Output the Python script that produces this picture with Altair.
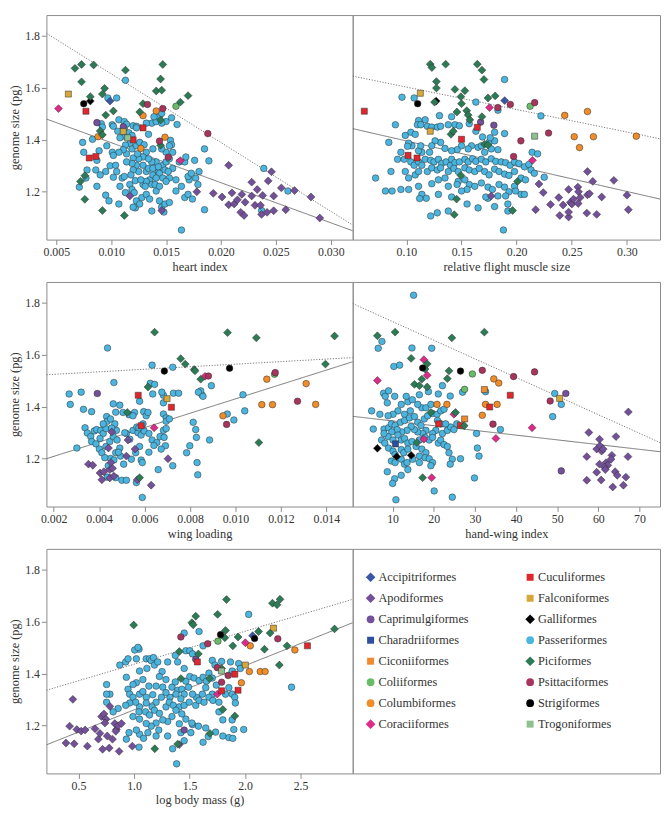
import altair as alt
import pandas as pd

# ---------------- categories / styles ----------------
ORDERS = ["Accipitriformes", "Apodiformes", "Caprimulgiformes", "Charadriiformes",
          "Ciconiiformes", "Coliiformes", "Columbiformes", "Coraciiformes",
          "Cuculiformes", "Falconiformes", "Galliformes", "Passeriformes",
          "Piciformes", "Psittaciformes", "Strigiformes", "Trogoniformes"]
COLORS = ["#3a57a6", "#74509a", "#74509a", "#2d4f9e",
          "#ef8a2d", "#69bd6a", "#f18d28", "#df2a8a",
          "#e2262d", "#d6a73b", "#000000", "#4ab6e0",
          "#2b7b55", "#a8345d", "#000000", "#8fc08f"]
SHAPES = ["diamond", "diamond", "circle", "square",
          "square", "circle", "circle", "diamond",
          "square", "square", "diamond", "circle",
          "diamond", "circle", "circle", "square"]

Y_TICKS = [1.2, 1.4, 1.6, 1.8]
Y_DOMAIN = [1.016, 1.88]

# ---------------- panel 1: heart index ----------------
HEART = {
    "Passeriformes": [(0.0113,1.629),(0.0097,1.561),(0.0105,1.561),(0.0091,1.462),(0.0092,1.449),(0.0101,1.458),(0.0102,1.452),(0.0107,1.477),(0.0106,1.433),(0.0112,1.470),(0.0114,1.460),(0.0112,1.442),(0.0120,1.454),(0.0123,1.452),(0.0116,1.427),(0.0119,1.417),(0.0123,1.446),(0.0112,1.414),(0.0108,1.408),(0.0117,1.386),(0.0113,1.380),(0.0119,1.365),(0.0123,1.377),(0.0126,1.390),(0.0130,1.381),(0.0134,1.421),(0.0137,1.464),(0.0141,1.470),(0.0144,1.489),(0.0146,1.502),(0.0150,1.470),(0.0155,1.485),(0.0160,1.459),(0.0154,1.398),(0.0155,1.381),(0.0150,1.352),(0.0156,1.352),(0.0138,1.365),(0.0132,1.352),(0.0129,1.334),(0.0125,1.327),(0.0120,1.330),(0.0114,1.346),(0.0111,1.362),(0.0107,1.352),(0.0101,1.352),(0.0102,1.340),(0.0096,1.377),(0.0089,1.358),(0.0083,1.402),(0.0074,1.390),(0.0087,1.321),(0.0086,1.284),(0.0087,1.221),(0.0095,1.278),(0.0095,1.187),(0.0099,1.300),(0.0104,1.302),(0.0105,1.278),(0.0102,1.256),(0.0110,1.253),(0.0112,1.259),(0.0113,1.197),(0.0108,1.221),(0.0107,1.153),(0.0117,1.228),(0.0119,1.209),(0.0122,1.243),(0.0121,1.197),(0.0123,1.165),(0.0122,1.138),(0.0129,1.228),(0.0128,1.178),(0.0132,1.190),(0.0135,1.172),(0.0137,1.126),(0.0141,1.203),(0.0144,1.165),(0.0146,1.141),(0.0148,1.122),(0.0149,1.153),(0.0153,1.159),(0.0159,1.203),(0.0164,1.221),(0.0167,1.178),(0.0170,1.190),(0.0174,1.172),(0.0171,1.246),(0.0170,1.259),(0.0176,1.321),(0.0180,1.278),(0.0177,1.253),(0.0179,1.228),(0.0185,1.365),(0.0189,1.319),(0.0185,1.131),(0.0164,1.053),(0.0159,1.246),(0.0153,1.253),(0.0156,1.290),(0.0162,1.315),(0.0167,1.315),(0.0168,1.334),(0.0129,1.302),(0.0132,1.278),(0.0135,1.246),(0.0138,1.265),(0.0143,1.278),(0.0147,1.302),(0.0150,1.315),(0.0153,1.327),(0.0141,1.315),(0.0137,1.315),(0.0134,1.327),(0.0134,1.290),(0.0138,1.290),(0.0143,1.296),(0.0144,1.271),(0.0147,1.253),(0.0141,1.253),(0.0137,1.228),(0.0132,1.240),(0.0140,1.228),(0.0144,1.221),(0.0150,1.240),(0.0149,1.284),(0.0152,1.278),(0.0125,1.278),(0.0123,1.302),(0.0119,1.309),(0.0114,1.315),(0.0120,1.284),(0.0118,1.265),(0.0127,1.246),(0.0131,1.221),(0.0075,1.352),(0.0071,1.218),(0.0078,1.284),(0.0077,1.253),(0.0239,1.290),(0.0261,1.203),(0.0237,1.128),(0.0124,1.346),(0.0132,1.464),(0.0139,1.489),(0.0146,1.464),(0.0153,1.377),(0.0146,1.365),(0.0090,1.265),(0.0098,1.165),(0.0120,1.141),(0.0126,1.153),(0.0173,1.271)],
    "Piciformes": [(0.0067,1.675),(0.0073,1.690),(0.0084,1.688),(0.0073,1.623),(0.0081,1.566),(0.0094,1.598),(0.0092,1.576),(0.0095,1.495),(0.0102,1.511),(0.0113,1.668),(0.0147,1.690),(0.0145,1.634),(0.0141,1.588),(0.0146,1.591),(0.0163,1.545),(0.0170,1.570),(0.0129,1.539),(0.0126,1.507),(0.0090,1.434),(0.0092,1.419),(0.0145,1.379),(0.0145,1.476),(0.0076,1.262),(0.0072,1.240),(0.0076,1.171),(0.0092,1.128),(0.0112,1.109)],
    "Apodiformes": [(0.0207,1.302),(0.0193,1.194),(0.0201,1.180),(0.0210,1.196),(0.0207,1.150),(0.0212,1.153),(0.0215,1.169),(0.0219,1.190),(0.0222,1.160),(0.0218,1.121),(0.0221,1.109),(0.0228,1.237),(0.0233,1.209),(0.0231,1.148),(0.0236,1.148),(0.0238,1.186),(0.0237,1.113),(0.0243,1.242),(0.0242,1.121),(0.0246,1.277),(0.0248,1.184),(0.0248,1.127),(0.0255,1.215),(0.0259,1.131),(0.0267,1.205),(0.0282,1.180),(0.0290,1.099),(0.0228,1.184),(0.0178,1.200),(0.0117,1.184),(0.0146,1.128)],
    "Caprimulgiformes": [(0.0087,1.466),(0.0111,1.450)],
    "Psittaciformes": [(0.0133,1.536),(0.0147,1.520),(0.0144,1.395),(0.0152,1.333),(0.0188,1.424)],
    "Coraciiformes": [(0.0052,1.520),(0.0163,1.320)],
    "Cuculiformes": [(0.0077,1.510),(0.0086,1.336),(0.0080,1.330),(0.0129,1.446),(0.0120,1.400)],
    "Falconiformes": [(0.0061,1.576),(0.0111,1.432)],
    "Galliformes": [(0.0081,1.549)],
    "Strigiformes": [(0.0075,1.539)],
    "Accipitriformes": [(0.0099,1.549)],
    "Columbiformes": [(0.0088,1.412),(0.0129,1.493),(0.0141,1.511),(0.0149,1.410),(0.0127,1.367)],
    "Coliiformes": [(0.0159,1.529)],
    "Trogoniformes": [(0.0115,1.408)],
}
HEART_FIT = [(0.0041, 1.480), (0.0320, 1.050)]
HEART_UPPER = [(0.0041, 1.810), (0.0320, 1.072)]

# ---------------- panel 2: relative flight muscle size ----------------
MUSCLE = {
    "Passeriformes": [(0.189,1.632),(0.096,1.564),(0.107,1.561),(0.163,1.545),(0.183,1.514),(0.130,1.493),(0.117,1.477),(0.111,1.474),(0.110,1.458),(0.113,1.458),(0.090,1.458),(0.104,1.429),(0.099,1.417),(0.108,1.421),(0.119,1.452),(0.123,1.449),(0.128,1.449),(0.131,1.452),(0.138,1.458),(0.141,1.489),(0.144,1.458),(0.148,1.454),(0.157,1.462),(0.163,1.433),(0.180,1.429),(0.189,1.424),(0.169,1.411),(0.175,1.390),(0.180,1.396),(0.183,1.362),(0.177,1.365),(0.171,1.352),(0.165,1.371),(0.159,1.377),(0.156,1.365),(0.150,1.377),(0.146,1.362),(0.141,1.358),(0.135,1.367),(0.131,1.390),(0.126,1.396),(0.123,1.377),(0.121,1.352),(0.114,1.352),(0.111,1.358),(0.105,1.377),(0.102,1.387),(0.084,1.390),(0.092,1.325),(0.098,1.325),(0.104,1.315),(0.107,1.302),(0.111,1.315),(0.114,1.302),(0.117,1.325),(0.122,1.321),(0.125,1.315),(0.129,1.325),(0.132,1.309),(0.136,1.315),(0.140,1.302),(0.141,1.325),(0.144,1.312),(0.148,1.315),(0.153,1.325),(0.156,1.315),(0.160,1.327),(0.163,1.317),(0.168,1.325),(0.172,1.315),(0.177,1.327),(0.181,1.317),(0.186,1.315),(0.190,1.312),(0.194,1.302),(0.198,1.315),(0.202,1.309),(0.207,1.296),(0.211,1.305),(0.214,1.352),(0.219,1.346),(0.222,1.492),(0.119,1.278),(0.123,1.292),(0.128,1.284),(0.131,1.292),(0.138,1.278),(0.143,1.290),(0.147,1.278),(0.153,1.292),(0.157,1.284),(0.162,1.278),(0.166,1.290),(0.171,1.278),(0.175,1.265),(0.180,1.287),(0.184,1.278),(0.189,1.268),(0.193,1.263),(0.198,1.278),(0.204,1.253),(0.208,1.246),(0.213,1.284),(0.216,1.271),(0.072,1.253),(0.086,1.278),(0.102,1.253),(0.108,1.265),(0.111,1.221),(0.114,1.190),(0.123,1.231),(0.129,1.246),(0.135,1.253),(0.138,1.221),(0.141,1.180),(0.147,1.240),(0.153,1.246),(0.157,1.228),(0.162,1.221),(0.168,1.234),(0.174,1.218),(0.178,1.209),(0.184,1.228),(0.189,1.218),(0.193,1.200),(0.198,1.221),(0.204,1.190),(0.207,1.190),(0.081,1.203),(0.087,1.203),(0.095,1.209),(0.102,1.209),(0.118,1.175),(0.129,1.190),(0.155,1.153),(0.165,1.138),(0.174,1.175),(0.180,1.143),(0.192,1.153),(0.199,1.203),(0.122,1.107),(0.128,1.119),(0.138,1.126),(0.192,1.126),(0.188,1.053),(0.112,1.174),(0.146,1.228),(0.155,1.209),(0.172,1.180),(0.183,1.184),(0.190,1.184),(0.150,1.203),(0.225,1.256),(0.095,1.352),(0.101,1.375),(0.113,1.377),(0.168,1.377),(0.176,1.408),(0.111,1.278),(0.099,1.278)],
    "Piciformes": [(0.1216,1.691),(0.1231,1.678),(0.1356,1.691),(0.1643,1.691),(0.1685,1.668),(0.1703,1.632),(0.1272,1.624),(0.1272,1.599),(0.1255,1.545),(0.1440,1.594),(0.1530,1.589),(0.1494,1.566),(0.1500,1.539),(0.1740,1.561),(0.1805,1.569),(0.1458,1.507),(0.1547,1.512),(0.1560,1.495),(0.1575,1.477),(0.1685,1.489),(0.1404,1.421),(0.1425,1.433),(0.1709,1.383),(0.1739,1.380),(0.2008,1.240),(0.1494,1.263),(0.1455,1.172),(0.1434,1.112),(0.1963,1.128)],
    "Apodiformes": [(0.2642,1.278),(0.2690,1.240),(0.2881,1.244),(0.2202,1.230),(0.2172,1.131),(0.2241,1.197),(0.2307,1.151),(0.2382,1.178),(0.2421,1.149),(0.2391,1.109),(0.2471,1.209),(0.2486,1.159),(0.2501,1.153),(0.2516,1.172),(0.2555,1.218),(0.2561,1.200),(0.2576,1.178),(0.2558,1.155),(0.2642,1.188),(0.2660,1.193),(0.2636,1.118),(0.2726,1.113),(0.2771,1.180),(0.3000,1.187),(0.3013,1.131),(0.2471,1.103),(0.2471,1.122),(0.1769,1.184)],
    "Caprimulgiformes": [(0.1673,1.468),(0.1793,1.456)],
    "Psittaciformes": [(0.1942,1.536),(0.2163,1.543),(0.1829,1.524),(0.2289,1.426),(0.2038,1.396),(0.1972,1.336)],
    "Coraciiformes": [(0.1754,1.524),(0.2143,1.321)],
    "Accipitriformes": [(0.1891,1.551)],
    "Coliiformes": [(0.2122,1.529)],
    "Trogoniformes": [(0.2163,1.414)],
    "Columbiformes": [(0.2436,1.494),(0.2642,1.509),(0.2522,1.412),(0.2696,1.412),(0.2570,1.370),(0.3085,1.414)],
    "Cuculiformes": [(0.0618,1.510),(0.1643,1.448),(0.1500,1.402),(0.1096,1.330),(0.1015,1.340)],
    "Falconiformes": [(0.1126,1.579),(0.1216,1.433)],
    "Strigiformes": [(0.1102,1.539)],
    "Galliformes": [(0.1270,1.549)],
}
MUSCLE_FIT = [(0.0513, 1.443), (0.330, 1.172)]
MUSCLE_UPPER = [(0.0513, 1.645), (0.330, 1.404)]

# ---------------- panel 3: wing loading ----------------
WING = {
    "Passeriformes": [(0.00437,1.626),(0.00268,1.449),(0.00273,1.409),(0.00321,1.456),(0.00331,1.390),(0.00367,1.381),(0.00302,1.241),(0.00338,1.319),(0.00348,1.299),(0.00363,1.285),(0.00367,1.266),(0.00379,1.307),(0.00389,1.312),(0.00407,1.309),(0.00418,1.297),(0.00430,1.316),(0.00404,1.278),(0.00386,1.257),(0.00401,1.237),(0.00412,1.223),(0.00430,1.247),(0.00447,1.266),(0.00462,1.285),(0.00476,1.309),(0.00469,1.334),(0.00433,1.362),(0.00436,1.344),(0.00450,1.353),(0.00465,1.493),(0.00473,1.379),(0.00462,1.411),(0.00491,1.406),(0.00505,1.378),(0.00520,1.297),(0.00535,1.275),(0.00549,1.309),(0.00566,1.322),(0.00513,1.300),(0.00479,1.272),(0.00491,1.241),(0.00473,1.223),(0.00494,1.210),(0.00508,1.179),(0.00450,1.201),(0.00425,1.204),(0.00440,1.173),(0.00436,1.129),(0.00473,1.127),(0.00500,1.117),(0.00542,1.198),(0.00561,1.223),(0.00578,1.247),(0.00571,1.300),(0.00585,1.291),(0.00593,1.334),(0.00596,1.381),(0.00607,1.365),(0.00598,1.307),(0.00619,1.297),(0.00633,1.272),(0.00654,1.262),(0.00668,1.285),(0.00683,1.309),(0.00695,1.316),(0.00686,1.282),(0.00692,1.250),(0.00673,1.237),(0.00619,1.225),(0.00641,1.251),(0.00615,1.378),(0.00636,1.449),(0.00625,1.490),(0.00556,1.378),(0.00575,1.319),(0.00585,1.195),(0.00590,1.185),(0.00564,1.108),(0.00660,1.158),(0.00724,1.173),(0.00683,1.372),(0.00683,1.415),(0.00683,1.444),(0.00676,1.456),(0.00695,1.357),(0.00695,1.344),(0.00709,1.353),(0.00727,1.452),(0.00750,1.452),(0.00724,1.552),(0.00644,1.486),(0.00633,1.560),(0.00785,1.223),(0.00799,1.250),(0.00814,1.340),(0.00825,1.312),(0.00828,1.282),(0.00831,1.185),(0.00834,1.138),(0.00852,1.446),(0.00847,1.461),(0.00837,1.456),(0.00857,1.440),(0.00894,1.481),(0.00964,1.372),(0.00993,1.349),(0.01041,1.384),(0.00886,1.272),(0.00590,1.051),(0.00520,1.117),(0.00465,1.195),(0.00485,1.225),(0.00532,1.369),(0.00549,1.365),(0.00578,1.421),(0.00455,1.318),(0.00418,1.334),(0.01033,1.446)],
    "Piciformes": [(0.00644,1.687),(0.00965,1.685),(0.01092,1.665),(0.01436,1.672),(0.01396,1.564),(0.00759,1.585),(0.00779,1.564),(0.00818,1.543),(0.00847,1.506),(0.00615,1.476),(0.00524,1.378),(0.00578,1.127),(0.01103,1.262),(0.00822,1.538)],
    "Strigiformes": [(0.00687,1.537),(0.00974,1.548)],
    "Psittaciformes": [(0.01175,1.531),(0.01273,1.421),(0.00961,1.332),(0.00881,1.518)],
    "Coraciiformes": [(0.00866,1.517),(0.00642,1.319)],
    "Cuculiformes": [(0.00572,1.444),(0.00585,1.327),(0.00718,1.398)],
    "Falconiformes": [(0.00699,1.431)],
    "Columbiformes": [(0.01138,1.506),(0.01311,1.489),(0.01116,1.408),(0.01163,1.408),(0.01353,1.409),(0.00945,1.365)],
    "Coliiformes": [(0.01172,1.525)],
    "Caprimulgiformes": [(0.00392,1.451)],
    "Apodiformes": [(0.00353,1.179),(0.00372,1.175),(0.00404,1.145),(0.00412,1.119),(0.00421,1.150),(0.00452,1.185),(0.00447,1.158),(0.00447,1.126),(0.00465,1.133),(0.00441,1.241),(0.00456,1.303),(0.00520,1.210),(0.00527,1.272),(0.00558,1.237),(0.00568,1.119),(0.00629,1.098),(0.00703,1.200),(0.00459,1.163)],
}
WING_FIT = [(0.00168, 1.200), (0.01516, 1.573)]
WING_UPPER = [(0.00168, 1.523), (0.01516, 1.589)]

# ---------------- panel 4: hand-wing index ----------------
HWI = {
    "Passeriformes": [(15.1,1.829),(7.4,1.651),(6.5,1.625),(14.7,1.626),(19.5,1.625),(10.3,1.555),(11.7,1.560),(22.1,1.481),(21.1,1.449),(18.7,1.458),(16.5,1.446),(7.8,1.452),(8.2,1.440),(9.0,1.461),(8.7,1.415),(10.5,1.440),(12.1,1.409),(13.7,1.419),(13.3,1.440),(14.8,1.427),(14.3,1.384),(12.9,1.371),(11.3,1.384),(10.1,1.371),(8.9,1.365),(6.9,1.371),(4.9,1.384),(5.3,1.314),(7.9,1.314),(9.0,1.319),(9.7,1.334),(10.6,1.328),(11.9,1.340),(12.9,1.347),(14.1,1.357),(15.3,1.362),(16.1,1.340),(16.9,1.328),(17.7,1.353),(18.5,1.365),(19.7,1.374),(20.8,1.371),(21.7,1.384),(22.5,1.390),(20.9,1.347),(21.7,1.334),(20.5,1.309),(19.7,1.297),(18.1,1.309),(17.3,1.297),(16.1,1.303),(15.3,1.312),(14.5,1.324),(13.5,1.309),(12.2,1.303),(11.1,1.312),(9.8,1.303),(8.9,1.285),(7.9,1.297),(7.3,1.272),(8.1,1.260),(9.0,1.241),(10.1,1.272),(11.3,1.291),(12.1,1.272),(12.9,1.278),(13.7,1.260),(14.7,1.266),(15.7,1.247),(16.5,1.272),(17.9,1.282),(18.9,1.272),(19.7,1.282),(21.1,1.260),(21.7,1.272),(22.5,1.254),(23.3,1.247),(22.1,1.297),(23.3,1.309),(24.1,1.322),(24.9,1.312),(25.6,1.334),(10.1,1.229),(10.6,1.216),(12.1,1.235),(12.7,1.223),(13.7,1.237),(17.1,1.237),(18.1,1.223),(9.7,1.191),(10.6,1.185),(12.1,1.198),(12.9,1.179),(13.5,1.185),(16.5,1.210),(17.9,1.204),(18.9,1.200),(23.7,1.223),(24.5,1.198),(26.5,1.200),(30.6,1.241),(31.0,1.210),(30.4,1.297),(36.2,1.312),(8.7,1.150),(12.1,1.136),(13.7,1.158),(14.9,1.198),(16.5,1.185),(19.7,1.185),(19.3,1.173),(24.0,1.179),(10.5,1.123),(10.0,1.105),(10.8,1.042),(20.1,1.076),(24.5,1.052),(29.9,1.126),(48.9,1.362),(49.4,1.451),(51.0,1.409),(24.0,1.441),(27.0,1.456),(32.6,1.458),(22.9,1.334),(17.1,1.396),(16.1,1.409),(18.1,1.396),(19.3,1.409)],
    "Piciformes": [(6.3,1.673),(10.6,1.687),(32.3,1.687),(24.4,1.665),(14.5,1.586),(17.9,1.545),(18.4,1.565),(23.7,1.538),(23.3,1.508),(17.1,1.506),(15.3,1.486),(16.5,1.481),(18.4,1.476),(19.3,1.378),(25.3,1.378),(27.4,1.327),(15.9,1.262),(17.3,1.127)],
    "Galliformes": [(6.3,1.240),(11.0,1.208),(14.5,1.213)],
    "Strigiformes": [(17.3,1.549),(26.5,1.537)],
    "Coraciiformes": [(6.3,1.501),(17.6,1.581),(18.4,1.521),(24.9,1.371),(17.6,1.275),(19.5,1.127),(35.1,1.278),(43.9,1.319)],
    "Psittaciformes": [(31.8,1.540),(39.4,1.516),(44.5,1.534),(48.3,1.422),(34.4,1.333)],
    "Caprimulgiformes": [(52.1,1.451),(51.0,1.153)],
    "Coliiformes": [(29.4,1.526),(27.5,1.467)],
    "Columbiformes": [(34.6,1.507),(35.8,1.491),(20.8,1.409),(23.2,1.409),(32.6,1.409),(35.4,1.409),(31.8,1.367)],
    "Ciconiiformes": [(32.3,1.466),(27.5,1.353)],
    "Falconiformes": [(50.6,1.432)],
    "Cuculiformes": [(38.6,1.444),(33.6,1.399),(21.2,1.334),(26.5,1.328)],
    "Charadriiformes": [(10.7,1.257)],
    "Apodiformes": [(67.3,1.380),(57.7,1.301),(60.3,1.275),(64.3,1.285),(59.6,1.237),(60.4,1.250),(60.8,1.229),(57.2,1.208),(60.3,1.179),(61.9,1.185),(63.3,1.213),(63.1,1.198),(62.3,1.175),(61.5,1.167),(61.7,1.158),(59.6,1.148),(64.1,1.150),(64.6,1.136),(66.7,1.129),(67.2,1.208),(57.2,1.117),(60.7,1.118),(63.5,1.091),(66.1,1.098),(61.2,1.237)],
}
HWI_FIT = [(0.3, 1.363), (75.0, 1.227)]
HWI_UPPER = [(0.3, 1.797), (75.0, 1.262)]

# ---------------- panel 5: log body mass ----------------
MASS = {
    "Passeriformes": [(2.033,1.628),(1.045,1.494),(1.006,1.491),(1.036,1.501),(0.872,1.433),(0.925,1.445),(1.021,1.457),(1.050,1.410),(1.110,1.457),(1.140,1.457),(1.155,1.450),(1.175,1.462),(1.184,1.433),(1.116,1.420),(1.214,1.445),(1.253,1.408),(1.303,1.445),(1.372,1.470),(1.393,1.445),(1.467,1.488),(1.503,1.488),(1.527,1.476),(1.452,1.556),(1.586,1.562),(1.622,1.507),(1.705,1.451),(1.789,1.447),(1.869,1.445),(1.884,1.410),(1.943,1.439),(1.958,1.420),(1.080,1.377),(1.021,1.365),(0.991,1.358),(0.946,1.340),(0.931,1.386),(0.961,1.321),(0.991,1.309),(1.050,1.321),(1.080,1.331),(1.134,1.352),(1.110,1.309),(1.169,1.319),(1.199,1.352),(1.229,1.389),(1.259,1.348),(1.288,1.377),(1.342,1.348),(1.372,1.368),(1.393,1.336),(1.431,1.340),(1.467,1.371),(1.503,1.389),(1.541,1.383),(1.586,1.373),(1.622,1.386),(1.652,1.371),(1.675,1.402),(1.705,1.383),(1.741,1.356),(1.705,1.321),(1.646,1.346),(1.616,1.321),(1.562,1.309),(1.527,1.321),(1.491,1.348),(1.452,1.321),(1.422,1.303),(1.378,1.321),(1.324,1.309),(1.288,1.327),(1.247,1.309),(1.199,1.290),(1.163,1.272),(1.110,1.287),(1.050,1.272),(1.015,1.290),(0.961,1.287),(0.925,1.278),(0.857,1.266),(0.812,1.253),(0.783,1.321),(0.753,1.321),(1.045,1.253),(1.104,1.253),(1.140,1.241),(1.184,1.259),(1.229,1.247),(1.288,1.272),(1.318,1.290),(1.354,1.278),(1.408,1.272),(1.452,1.278),(1.497,1.290),(1.556,1.278),(1.586,1.297),(1.631,1.290),(1.675,1.309),(1.711,1.297),(1.765,1.290),(1.824,1.321),(1.884,1.321),(1.854,1.346),(1.907,1.309),(1.913,1.287),(1.884,1.222),(1.899,1.185),(1.854,1.154),(1.800,1.160),(1.735,1.175),(1.669,1.158),(1.622,1.136),(1.580,1.198),(1.527,1.204),(1.467,1.225),(1.431,1.245),(1.378,1.259),(1.342,1.235),(1.303,1.216),(1.259,1.222),(1.199,1.210),(1.155,1.198),(1.110,1.208),(1.050,1.225),(0.991,1.235),(0.955,1.173),(0.931,1.148),(1.050,1.167),(1.125,1.173),(1.199,1.160),(1.303,1.160),(1.348,1.111),(1.408,1.207),(1.422,1.173),(1.512,1.173),(1.646,1.191),(1.765,1.253),(1.800,1.222),(1.890,1.151),(1.988,1.185),(2.419,1.348),(1.384,1.053),(1.021,1.183),(1.223,1.183),(1.452,1.142),(1.521,1.210),(1.086,1.151),(1.045,1.117),(1.452,1.420),(1.729,1.433),(0.753,1.358),(0.753,1.290),(0.946,1.457)],
    "Piciformes": [(0.997,1.587),(1.556,1.621),(1.521,1.596),(1.533,1.588),(1.753,1.628),(1.833,1.685),(1.824,1.566),(1.818,1.538),(1.937,1.541),(1.890,1.507),(1.580,1.476),(1.408,1.485),(2.122,1.562),(2.175,1.494),(2.247,1.671),(2.288,1.665),(2.315,1.686),(2.226,1.556),(2.378,1.507),(2.309,1.433),(2.806,1.572),(1.423,1.381),(1.681,1.381),(1.789,1.420),(1.800,1.262),(1.908,1.237),(1.684,1.170),(1.187,1.111),(1.393,1.129)],
    "Apodiformes": [(0.449,1.301),(0.387,1.133),(0.420,1.198),(0.461,1.130),(0.485,1.185),(0.524,1.179),(0.560,1.183),(0.580,1.121),(0.649,1.188),(0.679,1.148),(0.693,1.170),(0.717,1.109),(0.708,1.235),(0.729,1.245),(0.747,1.225),(0.738,1.210),(0.783,1.274),(0.759,1.160),(0.777,1.114),(0.806,1.148),(0.827,1.208),(0.842,1.185),(0.857,1.200),(0.836,1.178),(0.887,1.208),(0.866,1.101),(0.985,1.121),(1.408,1.127)],
    "Caprimulgiformes": [(1.452,1.183),(1.556,1.455)],
    "Psittaciformes": [(1.422,1.541),(1.664,1.515),(1.750,1.423),(1.848,1.393),(2.295,1.534),(1.789,1.367)],
    "Coraciiformes": [(2.003,1.519),(1.750,1.321)],
    "Coliiformes": [(1.756,1.525)],
    "Trogoniformes": [(1.789,1.410)],
    "Strigiformes": [(1.780,1.550),(2.086,1.535)],
    "Accipitriformes": [(2.068,1.546)],
    "Falconiformes": [(2.256,1.575),(2.003,1.433)],
    "Columbiformes": [(2.047,1.507),(2.039,1.408),(2.137,1.408),(2.181,1.408),(1.967,1.365),(2.449,1.491)],
    "Cuculiformes": [(1.571,1.445),(1.908,1.398),(1.937,1.336),(2.562,1.507),(1.789,1.334)],
}
MASS_FIT = [(0.211, 1.126), (2.970, 1.596)]
MASS_UPPER = [(0.211, 1.336), (2.970, 1.686)]

# ---------------- helpers ----------------
SERIF = "Liberation Serif"
SHAPE_SIZE = {"circle": 45, "diamond": 64, "square": 38}
LEGEND_SIZE = {"circle": 62, "diamond": 95, "square": 50}
DRAW_ORDER = ["Passeriformes"] + [o for o in ORDERS if o != "Passeriformes"]

color_scale = alt.Scale(domain=ORDERS, range=COLORS)
shape_scale = alt.Scale(domain=ORDERS, range=SHAPES)
y_scale = alt.Scale(domain=Y_DOMAIN, nice=False, zero=False)


def panel(data, fit, upper, xdom, xticks, xfmt, xtitle, show_y, w, h):
    rows = []
    for o in DRAW_ORDER:
        shp = SHAPES[ORDERS.index(o)]
        for x, y in data.get(o, []):
            rows.append({"x": x, "y": y, "order": o, "sz": SHAPE_SIZE[shp]})
    df = pd.DataFrame(rows)
    lrows = [{"x": x, "y": y, "kind": "fit"} for x, y in fit] + \
            [{"x": x, "y": y, "kind": "upper"} for x, y in upper]
    ldf = pd.DataFrame(lrows)

    xs = alt.Scale(domain=xdom, nice=False, zero=False)
    xax = alt.Axis(values=xticks, format=xfmt, title=xtitle)

    def yenc():
        if show_y:
            return alt.Y("y:Q", scale=y_scale,
                         axis=alt.Axis(values=Y_TICKS, format=".1f", title="genome size (pg)"))
        return alt.Y("y:Q", scale=y_scale, axis=None)

    lines = alt.Chart(ldf).mark_line(clip=True, color="#555555", strokeWidth=0.8).encode(
        x=alt.X("x:Q", scale=xs, axis=xax),
        y=yenc(),
        detail="kind:N",
        strokeDash=alt.StrokeDash("kind:N", scale=alt.Scale(domain=["fit", "upper"], range=[[1, 0], [1.2, 1.6]]), legend=None),
    )
    pts = alt.Chart(df).mark_point(filled=True, opacity=1, stroke="#2a2a2a", strokeWidth=0.5, clip=True).encode(
        x=alt.X("x:Q", scale=xs, axis=xax),
        y=yenc(),
        color=alt.Color("order:N", scale=color_scale, legend=None),
        shape=alt.Shape("order:N", scale=shape_scale, legend=None),
        size=alt.Size("sz:Q", scale=None, legend=None),
    )
    return alt.layer(lines, pts).properties(width=w, height=h)


W_L, W_R, H = 311, 312, 228

p1 = panel(HEART, HEART_FIT, HEART_UPPER, [0.0041, 0.0320],
           [0.005, 0.010, 0.015, 0.020, 0.025, 0.030], ".3f", "heart index", True, W_L, H)
p2 = panel(MUSCLE, MUSCLE_FIT, MUSCLE_UPPER, [0.0513, 0.330],
           [0.10, 0.15, 0.20, 0.25, 0.30], ".2f", "relative flight muscle size", False, W_R, H)
p3 = panel(WING, WING_FIT, WING_UPPER, [0.00168, 0.01516],
           [0.002, 0.004, 0.006, 0.008, 0.010, 0.012, 0.014], ".3f", "wing loading", True, W_L, H)
p4 = panel(HWI, HWI_FIT, HWI_UPPER, [0.3, 75.0],
           [10, 20, 30, 40, 50, 60, 70], "d", "hand-wing index", False, W_R, H)
p5 = panel(MASS, MASS_FIT, MASS_UPPER, [0.211, 2.970],
           [0.5, 1.0, 1.5, 2.0, 2.5], ".1f", "log body mass (g)", True, W_L, H)

# ---------------- legend panel ----------------
leg = pd.DataFrame({
    "order": ORDERS,
    "col": [i // 8 for i in range(len(ORDERS))],
    "row": [i % 8 for i in range(len(ORDERS))],
    "sz": [LEGEND_SIZE[s] for s in SHAPES],
})
lx = alt.X("col:Q", scale=alt.Scale(domain=[-0.112, 1.814], nice=False, zero=False), axis=None)
ly = alt.Y("row:Q", scale=alt.Scale(domain=[-1.355, 9.35], nice=False, zero=False, reverse=True), axis=None)
leg_pts = alt.Chart(leg).mark_point(filled=True, opacity=1).encode(
    x=lx, y=ly,
    color=alt.Color("order:N", scale=color_scale, legend=None),
    shape=alt.Shape("order:N", scale=shape_scale, legend=None),
    size=alt.Size("sz:Q", scale=None, legend=None),
)
leg_txt = alt.Chart(leg).mark_text(align="left", baseline="middle", dx=8, font=SERIF,
                                   fontSize=12.5, color="#333333").encode(x=lx, y=ly, text="order:N")
p6 = alt.layer(leg_pts, leg_txt).properties(width=W_R, height=H)

row1 = alt.hconcat(p1, p2, spacing=0, bounds="flush")
row2 = alt.hconcat(p3, p4, spacing=0, bounds="flush")
row3 = alt.hconcat(p5, p6, spacing=0, bounds="flush")

chart = alt.vconcat(row1, row2, row3, spacing=8,
                    background="white", padding=0).configure_view(
    stroke="#8a8a8a", strokeWidth=1
).configure_axis(
    domain=False, grid=False, ticks=True, tickColor="#8a8a8a", tickSize=5, tickWidth=1,
    labelFont=SERIF, labelFontSize=12, labelColor="#333333", labelPadding=2,
    titleFont=SERIF, titleFontSize=12.5, titleFontWeight="normal", titleColor="#333333",
    titlePadding=3,
)

chart.save("out.html", embed_options={"renderer": "svg", "actions": False})
